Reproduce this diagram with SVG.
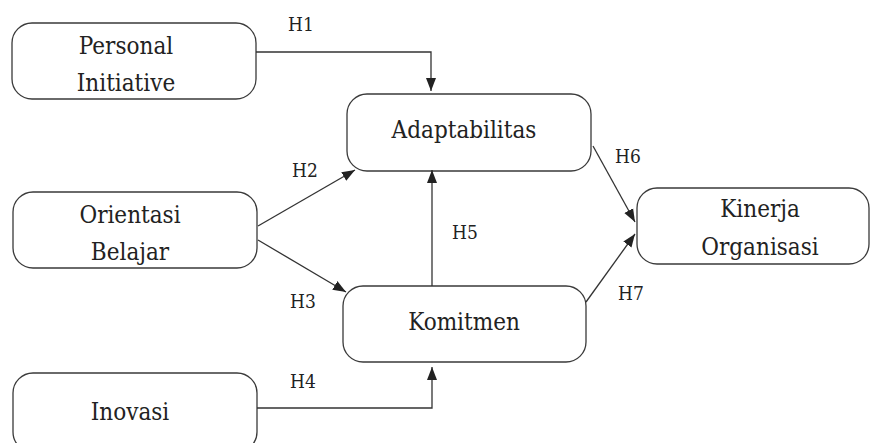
<svg xmlns="http://www.w3.org/2000/svg" width="870" height="443" viewBox="0 0 870 443">
<style>
.box{fill:#fff;stroke:#3a3a3a;stroke-width:1.3}
.t{font-family:"DejaVu Serif Condensed","DejaVu Serif",serif;font-stretch:condensed;font-size:24px;fill:#222;text-anchor:middle}
.h{font-family:"DejaVu Serif Condensed","DejaVu Serif",serif;font-stretch:condensed;font-size:19px;fill:#222}
.c{fill:none;stroke:#333;stroke-width:1.3}
</style>
<defs>
<marker id="ah" markerUnits="userSpaceOnUse" markerWidth="14" markerHeight="12" viewBox="0 0 14 12" refX="13" refY="6" orient="auto">
<path d="M0,1 L13,6 L0,11 Z" fill="#222"/>
</marker>
</defs>
<rect width="870" height="443" fill="#fff"/>
<g id="personal-initiative">
<rect class="box" x="12" y="23" width="244" height="76" rx="20"/>
<text class="t" x="126" y="54">Personal</text>
<text class="t" x="126" y="91">Initiative</text>
</g>
<g id="orientasi-belajar">
<rect class="box" x="13" y="192" width="244" height="76" rx="20"/>
<text class="t" x="130" y="223">Orientasi</text>
<text class="t" x="130" y="260">Belajar</text>
</g>
<g id="inovasi">
<rect class="box" x="13" y="373" width="244" height="79" rx="20"/>
<text class="t" x="130" y="420">Inovasi</text>
</g>
<g id="adaptabilitas">
<rect class="box" x="347" y="94" width="244" height="77" rx="20"/>
<text class="t" x="464" y="138">Adaptabilitas</text>
</g>
<g id="komitmen">
<rect class="box" x="343" y="286" width="243" height="76" rx="20"/>
<text class="t" x="464" y="330">Komitmen</text>
</g>
<g id="kinerja-organisasi">
<rect class="box" x="637" y="188" width="232" height="76" rx="20"/>
<text class="t" x="760" y="217">Kinerja</text>
<text class="t" x="760" y="255">Organisasi</text>
</g>
<g id="connectors">
<path class="c" d="M256,52 H431 V91" marker-end="url(#ah)"/>
<path class="c" d="M258,226 L355,170" marker-end="url(#ah)"/>
<path class="c" d="M258,240 L346,292" marker-end="url(#ah)"/>
<path class="c" d="M257,408 H432 V367" marker-end="url(#ah)"/>
<path class="c" d="M432,286 V170" marker-end="url(#ah)"/>
<path class="c" d="M593,146 L635,222" marker-end="url(#ah)"/>
<path class="c" d="M586,302 L635,234" marker-end="url(#ah)"/>
</g>
<g id="labels">
<text class="h" x="288" y="31">H1</text>
<text class="h" x="292" y="177">H2</text>
<text class="h" x="290" y="308">H3</text>
<text class="h" x="290" y="388">H4</text>
<text class="h" x="452" y="239">H5</text>
<text class="h" x="615" y="163">H6</text>
<text class="h" x="618" y="300">H7</text>
</g>
</svg>
